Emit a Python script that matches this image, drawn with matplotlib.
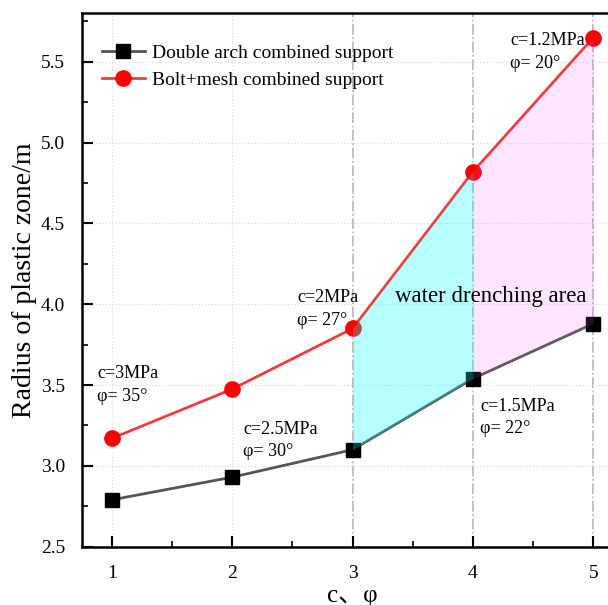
import numpy as np
from matplotlib import pyplot as plt
from matplotlib.ticker import MultipleLocator

plt.rcParams['font.family'] = ['Liberation Serif', 'Noto Sans CJK SC', 'DejaVu Sans']

x = [1, 2, 3, 4, 5]
double_arch = [2.79, 2.93, 3.10, 3.54, 3.88]
bolt_mesh = [3.17, 3.475, 3.85, 4.82, 5.65]

labels = ["c=3MPa\nφ= 35°", "c=2.5MPa\nφ= 30°", "c=2MPa\nφ= 27°",
          "c=1.5MPa\nφ= 22°", "c=1.2MPa\nφ= 20°"]
label_pos = [(0.88, 3.50), (2.09, 3.155), (2.54, 3.97), (4.06, 3.30), (4.31, 5.56)]

fig = plt.figure(figsize=(6.08, 6.05), dpi=100)
ax = fig.add_axes([81.7 / 608, 58.3 / 605, (623.4 - 81.7) / 608, 533.4 / 605])

ax.plot(x, double_arch, color='#555555', lw=2, marker='s', ms=10,
        mfc='black', mec='black', label='Double arch combined support', zorder=3)
ax.plot(x, bolt_mesh, color='#f03c3c', lw=2, marker='o', ms=11,
        mfc='red', mec='red', label='Bolt+mesh combined support', zorder=3)

xs = np.array(x[2:4])
ax.fill_between(xs, np.array(double_arch[2:4]), np.array(bolt_mesh[2:4]),
                color='#00ffff', alpha=0.28, lw=0, zorder=4)
xs = np.array(x[3:5])
ax.fill_between(xs, np.array(double_arch[3:5]), np.array(bolt_mesh[3:5]),
                color='#ff55ff', alpha=0.15, lw=0, zorder=4)

for xv in [3, 4, 5]:
    ax.axvline(xv, color='#b0b0b0', lw=1.2, ls='-.', zorder=1)

for (tx, ty), t in zip(label_pos, labels):
    ax.text(tx, ty, t, fontsize=13, va='center', ha='left', linespacing=1.4)

ax.text(3.35, 4.05, 'water drenching area', fontsize=16.5, va='center', ha='left', zorder=5)

ax.set_xlim(0.75, 5.25)
ax.set_ylim(2.5, 5.8)
ax.xaxis.set_major_locator(MultipleLocator(1))
ax.xaxis.set_minor_locator(MultipleLocator(0.5))
ax.yaxis.set_major_locator(MultipleLocator(0.5))
ax.yaxis.set_minor_locator(MultipleLocator(0.25))
ax.tick_params(which='major', direction='in', length=8, width=1.5, labelsize=14)
ax.tick_params(which='minor', direction='in', length=4, width=1.2)
ax.tick_params(axis='x', pad=13)
ax.tick_params(axis='y', pad=12)
ax.grid(True, which='major', ls=':', color='#dddddd', lw=0.9, zorder=0)
for s in ax.spines.values():
    s.set_linewidth(1.8)

ax.set_ylabel('Radius of plastic zone/m', fontsize=20, labelpad=3)
ax.set_xlabel('c、φ', fontsize=18, labelpad=2)

ax.legend(loc='upper left', bbox_to_anchor=(0.005, 0.975), frameon=False,
          fontsize=14, handlelength=2.2, handletextpad=0.4, labelspacing=0.5)

fig.savefig('out.png', dpi=100)
